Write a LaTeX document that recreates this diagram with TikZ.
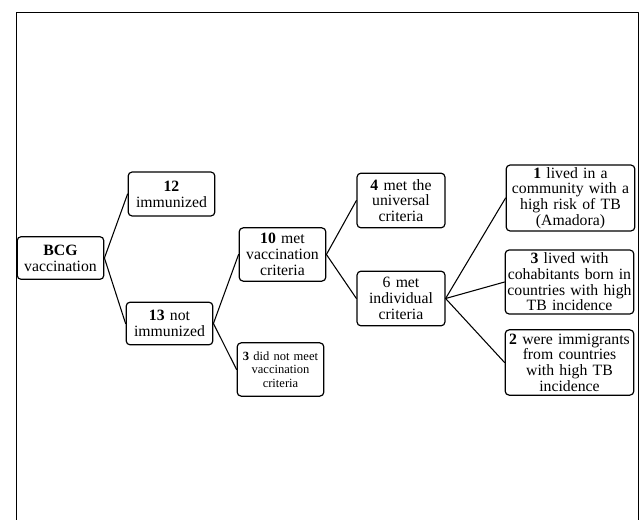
\documentclass[tikz,border=0pt]{standalone}
\usepackage{fontspec}
\setmainfont{Liberation Serif}
\begin{document}
\begin{tikzpicture}[x=0.75pt, y=-0.75pt, line join=round, line cap=round,
	font=\fontsize{11.8}{11.8}\selectfont]
	\tikzset{box/.style={draw, line width=0.9pt, rounded corners=3pt, align=center, inner sep=0pt, text width=64pt, minimum width=65pt},
		wide/.style={box, text width=96pt, minimum width=96.5pt},
		small/.style={font=\fontsize{9.4}{10}\selectfont}}
	\def\xl{16.5} \def\xr{638.5} \def\yt{12.7} % frame
	\useasboundingbox (0,0) rectangle (640,519);
	\draw[line width=1.1pt] (\xl,530)--(\xl,\yt)--(\xr,\yt)--(\xr,530);
	% first level
	\node[box, minimum height=32pt] (bcg) at (60.5,258) {\textbf{BCG}\\vaccination};
	\node[box, minimum height=33pt] (imm) at (171.5,194) {\textbf{12}\\immunized};
	\node[box, minimum height=32pt] (notimm) at (169.5,323.5) {\textbf{13} not\\immunized};
	% criteria
	\node[box, minimum height=40pt] (met) at (282.5,254.5) {\textbf{10} met\\vaccination\\criteria};
	\node[box, small, minimum height=40pt] (notmet) at (280.5,369.5) {\textbf{3} did not meet\\vaccination\\criteria};
	\node[box, text width=65pt, minimum width=66pt, minimum height=41pt] (univ) at (401,200.5) {\textbf{4} met the\\universal\\criteria};
	\node[box, text width=65pt, minimum width=66pt, minimum height=41pt] (indiv) at (401,298.5) {6 met\\individual\\criteria};
	% individual criteria
	\node[wide, minimum height=49.5pt] (amad) at (570.5,198) {\textbf{1} lived in a\\community with a\\high risk of TB\\(Amadora)};
	\node[wide, minimum height=48pt] (cohab) at (569.5,282) {\textbf{3} lived with\\cohabitants born in\\countries with high\\TB incidence};
	\node[wide, minimum height=49pt] (immig) at (569.5,362.5) {\textbf{2} were immigrants\\from countries\\with high TB\\incidence};
	\foreach \a/\b in {bcg/imm,bcg/notimm,notimm/met,notimm/notmet,met/univ,met/indiv,indiv/amad,indiv/cohab,indiv/immig}
		\draw[line width=0.8pt] (\a.east)--(\b.west);
\end{tikzpicture}
\end{document}
